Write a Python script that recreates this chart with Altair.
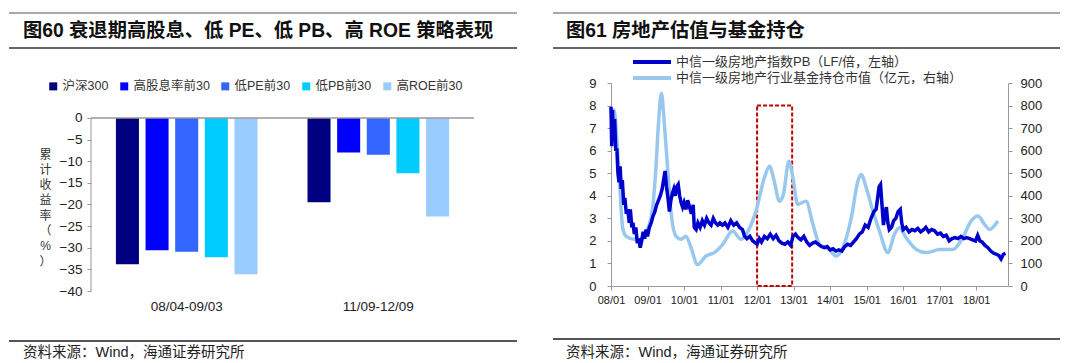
import altair as alt
import pandas as pd

FONT = "Liberation Sans, Noto Sans CJK SC, sans-serif"

# ---------------- Left panel data ----------------
title_left = "图60 衰退期高股息、低 PE、低 PB、高 ROE 策略表现"
periods = ["08/04-09/03", "11/09-12/09"]
series = ["沪深300", "高股息率前30", "低PE前30", "低PB前30", "高ROE前30"]
bar_colors = ["#000080", "#0000FF", "#3366FF", "#00CCFF", "#99CCFF"]
ret_0804_0903 = [-33.8, -30.6, -30.9, -32.2, -36.1]
ret_1109_1209 = [-19.5, -8.0, -8.5, -12.8, -22.8]
y_ticks_left = [-40, -35, -30, -25, -20, -15, -10, -5, 0]
y_title_chars = ["累", "计", "收", "益", "率", "（", "%", "）"]
source_text = "资料来源：Wind，海通证券研究所"

# ---------------- Right panel data ----------------
title_right = "图61 房地产估值与基金持仓"
legend_pb = "中信一级房地产指数PB（LF/倍，左轴）"
legend_fund = "中信一级房地产行业基金持仓市值（亿元，右轴）"
year_ticks = [2008, 2009, 2010, 2011, 2012, 2013, 2014, 2015, 2016, 2017, 2018]
pb_ticks = [0, 1, 2, 3, 4, 5, 6, 7, 8, 9]
fund_ticks = [0, 100, 200, 300, 400, 500, 600, 700, 800, 900]

# years elapsed since 2008-01 and PB values
pb_t = [0.00, 0.02, 0.04, 0.07, 0.10, 0.13, 0.16, 0.19, 0.22, 0.25, 0.28, 0.31,
        0.35, 0.38, 0.42, 0.46, 0.50, 0.53, 0.57, 0.60, 0.64, 0.68, 0.72, 0.76,
        0.80, 0.84, 0.88, 0.92, 0.96, 1.00, 1.05, 1.10, 1.15, 1.20, 1.25, 1.30,
        1.35, 1.40, 1.44, 1.48, 1.52, 1.56, 1.60, 1.64, 1.68, 1.72, 1.76, 1.80,
        1.84, 1.88, 1.92, 1.96, 2.00, 2.05, 2.10, 2.15, 2.20, 2.25, 2.28, 2.33,
        2.38, 2.44, 2.50, 2.56, 2.62, 2.68, 2.74, 2.80, 2.86, 2.92, 2.98, 3.05,
        3.12, 3.20, 3.28, 3.36, 3.44, 3.52, 3.60, 3.66, 3.72, 3.80, 3.88, 3.96,
        4.00, 4.06, 4.12, 4.20, 4.28, 4.36, 4.44, 4.52, 4.60, 4.68, 4.76, 4.84,
        4.92, 4.98, 5.05, 5.12, 5.20, 5.28, 5.36, 5.44, 5.52, 5.60, 5.68, 5.76,
        5.84, 5.92, 6.00, 6.08, 6.16, 6.24, 6.32, 6.40, 6.48, 6.56, 6.64, 6.72,
        6.80, 6.88, 6.96, 7.04, 7.12, 7.20, 7.26, 7.30, 7.34, 7.38, 7.42, 7.46,
        7.50, 7.54, 7.58, 7.62, 7.68, 7.74, 7.80, 7.86, 7.92, 7.96, 8.00, 8.08,
        8.16, 8.24, 8.32, 8.40, 8.48, 8.56, 8.62, 8.70, 8.78, 8.86, 8.94, 9.02,
        9.10, 9.18, 9.26, 9.34, 9.42, 9.50, 9.58, 9.66, 9.74, 9.82, 9.90, 9.98,
        10.04, 10.10, 10.16, 10.24, 10.32, 10.40, 10.48, 10.56, 10.62, 10.68, 10.74, 10.80]
pb_v = [7.95, 6.2, 7.8, 6.5, 7.4, 6.0, 6.1, 5.0, 4.6, 5.3, 4.3, 4.7,
        3.6, 3.9, 3.2, 3.4, 2.8, 3.4, 2.6, 2.8, 2.3, 2.6, 1.9, 2.1,
        1.7, 2.0, 2.4, 2.1, 2.5, 2.2, 2.6, 2.8, 3.1, 3.3, 3.6, 3.8,
        4.0, 4.3, 4.7, 5.1, 4.4, 3.9, 3.3, 3.8, 4.1, 4.3, 4.0, 4.4,
        4.5, 4.0, 3.7, 3.5, 3.7, 3.4, 3.8, 3.5, 3.2, 3.6, 2.6, 2.5,
        2.8, 2.6, 2.9, 2.7, 3.0, 2.8, 2.7, 3.0, 2.8, 2.7, 2.8, 2.7,
        2.8, 2.6, 2.9, 2.7, 2.8, 2.6, 2.5, 2.2, 2.1, 2.2, 2.0, 1.9,
        1.85, 2.1, 1.95, 2.2, 2.1, 2.3, 2.1, 2.25, 2.0, 1.9, 1.85, 1.95,
        1.8, 2.2, 2.3, 2.15, 2.05, 2.2, 1.95, 1.8, 1.9, 1.95, 1.85, 1.75,
        1.7, 1.75, 1.6, 1.65, 1.55, 1.6, 1.55, 1.75, 1.85, 1.8, 1.95, 2.1,
        2.3, 2.4, 2.7, 2.6, 3.0, 3.3, 3.4, 3.9, 4.4, 4.5, 3.6, 2.7,
        3.2, 3.5, 2.8, 2.5, 2.6, 2.9, 3.0, 3.3, 3.4, 2.8, 2.5, 2.6,
        2.4, 2.5, 2.45, 2.55, 2.4, 2.5, 2.6, 2.4, 2.5, 2.45, 2.3, 2.35,
        2.2, 2.25, 2.0, 2.1, 2.15, 2.1, 2.2, 2.1, 2.15, 2.1, 2.05, 2.0,
        2.25, 2.0, 1.95, 1.8, 1.7, 1.55, 1.45, 1.4, 1.35, 1.2, 1.4, 1.45]

# years elapsed since 2008-01 and fund holdings (100 million yuan)
fund_t = [0.02, 0.08, 0.21, 0.32, 0.41, 0.64, 0.82, 1.00, 1.14, 1.23, 1.30, 1.38,
          1.46, 1.55, 1.64, 1.78, 1.92, 2.05, 2.19, 2.37, 2.60, 2.83, 3.06, 3.33,
          3.56, 3.70, 3.97, 4.20, 4.34, 4.47, 4.61, 4.72, 4.87, 4.98, 5.11, 5.34,
          5.53, 5.71, 5.98, 6.16, 6.35, 6.58, 6.76, 6.85, 6.99, 7.17, 7.35, 7.58,
          7.76, 7.90, 8.08, 8.36, 8.63, 9.00, 9.36, 9.63, 9.86, 10.05, 10.23, 10.37, 10.59]
fund_v = [640, 780, 524, 258, 221, 207, 207, 251, 347, 524, 720, 855,
          720, 524, 332, 221, 207, 221, 170, 95, 133, 148, 185, 244,
          207, 229, 332, 480, 531, 465, 376, 406, 553, 480, 362, 376,
          273, 185, 162, 133, 170, 303, 465, 494, 435, 332, 244, 148,
          229, 258, 214, 162, 148, 162, 162, 214, 288, 310, 273, 251, 288]

box_x = [2012.0, 2012.96]
box_y = [0, 8]

one = pd.DataFrame({"k": [0]})


def hline(x1, x2, y, color, sw):
    return alt.Chart(one).mark_rule(color=color, strokeWidth=sw).encode(
        x=alt.value(x1), x2=alt.value(x2), y=alt.value(y))


def label(x, y, text, size, weight="normal", color="#111"):
    return alt.Chart(one).mark_text(
        align="left", baseline="middle", fontSize=size, fontWeight=weight,
        color=color, font=FONT).encode(
        x=alt.value(x), y=alt.value(y), text=alt.value(text))


# ---------------- Left panel ----------------
# plot area spans page y 82..290 so that its top aligns with the right panel;
# value 0 sits 35px below the top (page y 117)
bar_df = pd.DataFrame({
    "period": [periods[0]] * 5 + [periods[1]] * 5,
    "series": series * 2,
    "value": ret_0804_0903 + ret_1109_1209,
})
y_left_scale = alt.Scale(domain=[-40, 8.09], nice=False, zero=False)
y_left_axis = alt.Axis(values=y_ticks_left, grid=False, domain=False,
                       tickColor="#999", tickSize=4, labelPadding=5,
                       labelOverlap=False, labelFlush=False,
                       labelFontSize=13.5, labelColor="#222", labelFont=FONT,
                       title=y_title_chars, titleAngle=0, titleX=-46,
                       titleY=71, titleBaseline="middle", titleAlign="center",
                       titleFontSize=12, titleFontWeight="normal",
                       titleLineHeight=15.3, titleColor="#333", titleFont=FONT)
y_left_enc = alt.Y("value:Q", scale=y_left_scale, axis=y_left_axis)

bars = alt.Chart(bar_df).mark_bar().encode(
    x=alt.X("period:N", sort=periods,
            scale=alt.Scale(paddingInner=0.227, paddingOuter=0.113),
            axis=alt.Axis(title=None, domain=False, ticks=False, labelAngle=0,
                          labelPadding=8, labelFontSize=13.5, labelColor="#222",
                          labelFont=FONT)),
    xOffset=alt.XOffset("series:N", sort=series,
                        scale=alt.Scale(paddingInner=0.223, paddingOuter=0.11)),
    y=y_left_enc,
    color=alt.Color("series:N", sort=series,
                    scale=alt.Scale(domain=series, range=bar_colors),
                    legend=alt.Legend(orient="none", legendX=-44, legendY=-3,
                                      direction="horizontal", title=None,
                                      symbolType="square", symbolSize=64,
                                      symbolStrokeWidth=0, labelFontSize=12.5,
                                      labelFont=FONT, labelColor="#333",
                                      columnPadding=9, labelOffset=3, padding=0)),
)
axis_df = pd.DataFrame({"value": [0], "value_end": [-40]})
zero_rule = alt.Chart(axis_df).mark_rule(color="#999", strokeWidth=1.5).encode(
    y=y_left_enc)
y_axis_line = alt.Chart(axis_df).mark_rule(color="#999", strokeWidth=1).encode(
    x=alt.value(0), y=y_left_enc, y2="value_end:Q")

left = alt.layer(
    bars, zero_rule, y_axis_line,
    hline(-82, 426, -70, "#555", 1),
    hline(-82, 426, -35, "#333", 1.5),
    hline(-82, 426, 258, "#555", 2),
    label(-68, -52, title_left, 19.3, "bold", "#111"),
    label(-68, 270, source_text, 14.5, "normal", "#222"),
).properties(width=383, height=208)

# ---------------- Right panel ----------------
pb_df = pd.DataFrame({"year": [2008 + t for t in pb_t], "pb": pb_v})
fund_df = pd.DataFrame({"year": [2008 + t for t in fund_t], "fund": fund_v})
box_df = pd.DataFrame({"x1": [box_x[0]], "x2": [box_x[1]],
                       "y1": [box_y[0]], "y2": [box_y[1]]})

x_scale = alt.Scale(domain=[2008, 2018.87], nice=False, zero=False)
x_axis = alt.Axis(values=year_ticks, title=None,
                  labelExpr="slice(toString(datum.value), 2) + '/01'",
                  grid=False, domainColor="#999", tickColor="#999", tickSize=4,
                  labelPadding=4, labelFontSize=11, labelColor="#222",
                  labelFont=FONT, labelFlush=False, labelOverlap=False)

box = alt.Chart(box_df).mark_rect(fillOpacity=0, stroke="#C00000",
                                  strokeDash=[4, 2], strokeWidth=2).encode(
    x=alt.X("x1:Q", scale=x_scale, axis=x_axis),
    x2="x2:Q",
    y=alt.Y("y1:Q", scale=alt.Scale(domain=[0, 9], nice=False), axis=None),
    y2="y2:Q",
)

fund_line = alt.Chart(fund_df).mark_line(
    color="#99C8EE", strokeWidth=3.5, interpolate="monotone").encode(
    x=alt.X("year:Q", scale=x_scale, axis=x_axis),
    y=alt.Y("fund:Q", scale=alt.Scale(domain=[0, 900], nice=False),
            axis=alt.Axis(orient="right", values=fund_ticks, grid=False,
                          domainColor="#999", tickColor="#999", tickSize=4,
                          labelPadding=8, labelFontSize=13, labelColor="#222",
                          labelOverlap=False, labelFont=FONT, title=None)),
)

pb_line = alt.Chart(pb_df).mark_line(color="#0000CD", strokeWidth=3.5).encode(
    x=alt.X("year:Q", scale=x_scale, axis=x_axis),
    y=alt.Y("pb:Q", scale=alt.Scale(domain=[0, 9], nice=False),
            axis=alt.Axis(orient="left", values=pb_ticks, grid=False,
                          domainColor="#999", tickColor="#999", tickSize=4,
                          labelPadding=11, labelFontSize=13, labelColor="#222",
                          labelOverlap=False, labelFont=FONT, title=None)),
)

right_core = alt.layer(box, fund_line, pb_line).resolve_scale(y="independent")

right = alt.layer(
    right_core,
    hline(22, 60, -21, "#0000CD", 4),
    hline(22, 60, -5, "#99C8EE", 4),
    label(65, -21, legend_pb, 13, "normal", "#333"),
    label(65, -5, legend_fund, 13, "normal", "#333"),
    hline(-58, 449, -70, "#555", 1),
    hline(-58, 449, -35, "#333", 1.5),
    hline(-58, 449, 256, "#555", 2),
    label(-45, -52, title_right, 19.3, "bold", "#111"),
    label(-45, 270, source_text, 14.5, "normal", "#222"),
).properties(width=397, height=203)

chart = alt.hconcat(left, right, spacing=34).properties(
    padding={"left": 0, "top": 4, "right": 0, "bottom": 0},
    background="white",
).configure_view(strokeWidth=0)

chart.save("out.html", embed_options={"renderer": "svg", "actions": False})
